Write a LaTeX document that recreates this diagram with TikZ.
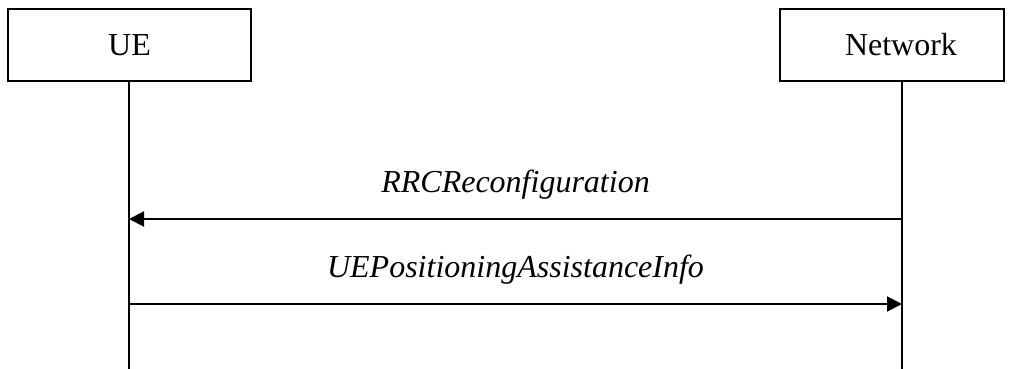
\documentclass[tikz,border=0pt]{standalone}
\usepackage{fontspec}
\setmainfont{Liberation Serif}
\usetikzlibrary{arrows.meta}

\tikzset{
  actor/.style={draw,line width=1.5pt,rectangle,minimum height=72pt,inner sep=0pt,
    font=\fontsize{32}{38}\selectfont},
  lifeline/.style={line width=1.5pt},
  msg/.style={line width=2pt,-{Triangle[length=15pt,width=15pt]}},
  msglabel/.style={anchor=base,yshift=27pt,font=\fontsize{32}{38}\selectfont\itshape}
}

\begin{document}
\begin{tikzpicture}[x=1pt,y=-1pt]
\useasboundingbox (0,0) rectangle (1011,369);
% entities
\node[actor,minimum width=243pt] (ue) at (129.5,45) {UE};
\node[actor,minimum width=224pt] (net) at (892,45) {\hspace*{18pt}Network};
% lifelines
\coordinate (ueend) at (129,369);
\coordinate (netend) at (902,369);
\draw[lifeline] (ue.south -| ueend) -- (ueend);
\draw[lifeline] (net.south -| netend) -- (netend);
% messages
\coordinate (m1u) at (129,219);
\coordinate (m1n) at (902,219);
\coordinate (m2u) at (129,304);
\coordinate (m2n) at (902,304);
\draw[msg] (m1n) -- (m1u) node[msglabel,pos=0.5] {RRCReconfiguration};
\draw[msg] (m2u) -- (m2n) node[msglabel,pos=0.5] {UEPositioningAssistanceInfo};
\end{tikzpicture}
\end{document}
